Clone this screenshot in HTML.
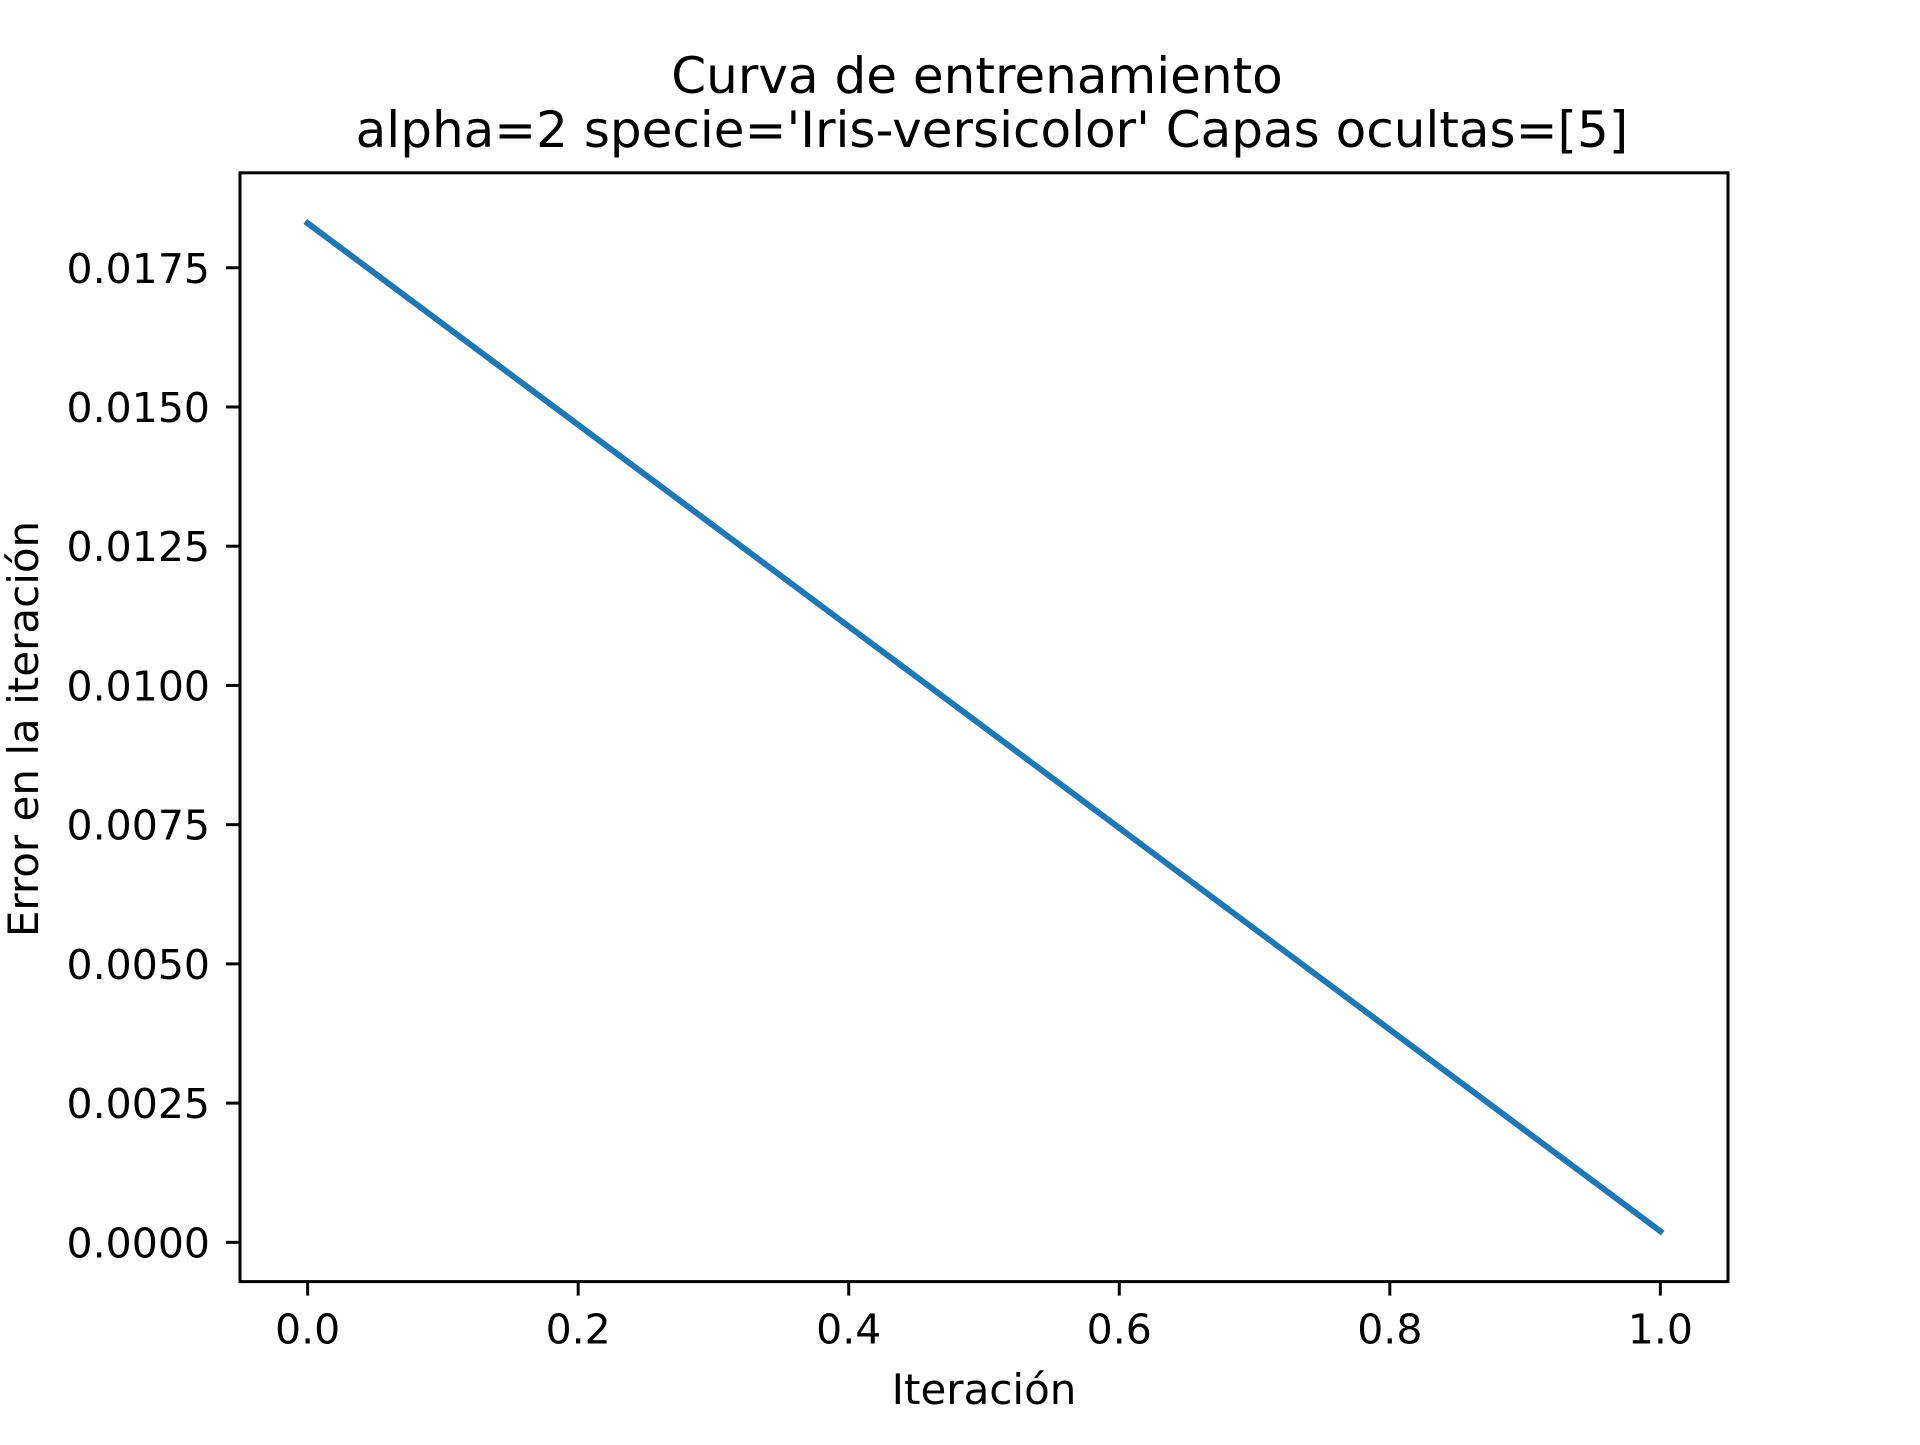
<!DOCTYPE html>
<html><head><meta charset="utf-8"><style>
body{margin:0;background:#fff}
svg text{font-family:"DejaVu Sans","Liberation Sans",sans-serif;fill:#000}
</style></head><body>
<svg id="chart" width="1920" height="1440" viewBox="0 0 1920 1440" xmlns="http://www.w3.org/2000/svg">
<rect width="1920" height="1440" fill="#fff"/>
<text x="977" y="93" font-size="50" text-anchor="middle">Curva de entrenamiento</text>
<text x="992" y="147" font-size="50" text-anchor="middle">alpha=2 specie='Iris-versicolor' Capas ocultas=[5]</text>
<g id="ticks"></g>
<polyline id="series" fill="none" stroke="#1f77b4" stroke-width="6" stroke-linecap="square"/>
<rect x="240" y="172.8" width="1488" height="1108.8" fill="none" stroke="#000" stroke-width="3"/>
<text x="984" y="1404" font-size="42" text-anchor="middle">Iteración</text>
<text x="0" y="0" font-size="42" text-anchor="middle" transform="translate(38,729) rotate(-90)">Error en la iteración</text>
</svg>
<script>
const xValues = [0, 1];
const errorValues = [0.0183, 0.0002];
const xTicks = [0.0, 0.2, 0.4, 0.6, 0.8, 1.0];
const xTickLabels = ["0.0", "0.2", "0.4", "0.6", "0.8", "1.0"];
const yTicks = [0, 0.0025, 0.005, 0.0075, 0.01, 0.0125, 0.015, 0.0175];
const yTickLabels = ["0.0000", "0.0025", "0.0050", "0.0075", "0.0100", "0.0125", "0.0150", "0.0175"];

const L = 240, R = 1728, T = 172.8, B = 1281.6;
const xmin = Math.min(...xValues), xmax = Math.max(...xValues);
const xpad = (xmax - xmin) * 0.05;
const ymin = Math.min(...errorValues), ymax = Math.max(...errorValues);
const ypad = (ymax - ymin) * 0.05;
function sx(v){ return L + (v - (xmin - xpad)) / ((xmax + xpad) - (xmin - xpad)) * (R - L); }
function sy(v){ return B - (v - (ymin - ypad)) / ((ymax + ypad) - (ymin - ypad)) * (B - T); }

const NS = "http://www.w3.org/2000/svg";
const g = document.getElementById('ticks');
xTicks.forEach((t, i) => {
  const x = sx(t);
  const ln = document.createElementNS(NS, 'line');
  
  
  ln.setAttribute('x1', x); ln.setAttribute('x2', x);
  ln.setAttribute('y1', B); ln.setAttribute('y2', B + 14);
  ln.setAttribute('stroke', '#000'); ln.setAttribute('stroke-width', '3');
  g.appendChild(ln);
  const tx = document.createElementNS(NS, 'text');
  
  
  tx.setAttribute('x', x); tx.setAttribute('y', B + 62);
  tx.setAttribute('font-size', '41'); tx.setAttribute('text-anchor', 'middle');
  tx.textContent = xTickLabels[i];
  g.appendChild(tx);
});
yTicks.forEach((t, i) => {
  const y = sy(t);
  const ln = document.createElementNS(NS, 'line');
  
  
  ln.setAttribute('x1', L - 14); ln.setAttribute('x2', L);
  ln.setAttribute('y1', y); ln.setAttribute('y2', y);
  ln.setAttribute('stroke', '#000'); ln.setAttribute('stroke-width', '3');
  g.appendChild(ln);
  const tx = document.createElementNS(NS, 'text');
  
  
  tx.setAttribute('x', L - 30); tx.setAttribute('y', y + 15);
  tx.setAttribute('font-size', '41'); tx.setAttribute('text-anchor', 'end');
  tx.textContent = yTickLabels[i];
  g.appendChild(tx);
});
document.getElementById('series').setAttribute('points',
  xValues.map((x, i) => sx(x) + ',' + sy(errorValues[i])).join(' '));
</script>
</body></html>
